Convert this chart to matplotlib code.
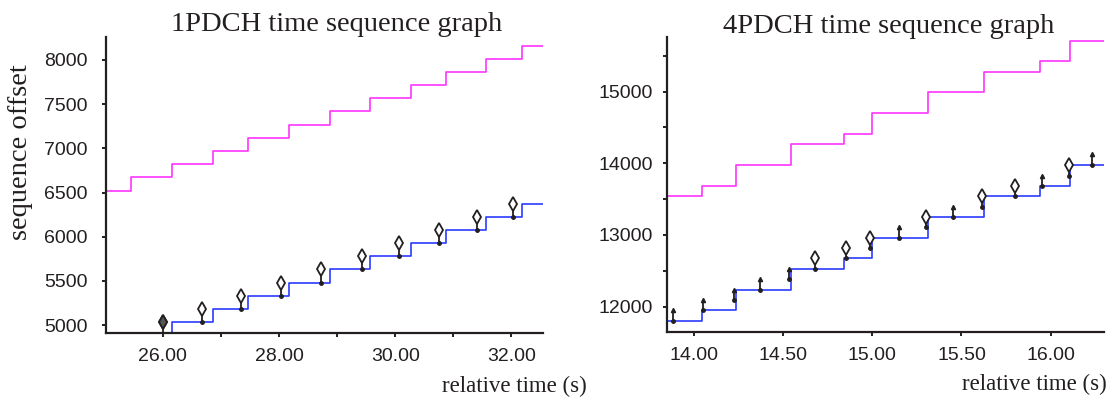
import matplotlib.pyplot as plt
from matplotlib.ticker import MultipleLocator, FormatStrFormatter

#%% Data
# 1PDCH: ack / window step times (s) and levels (bytes)
pd1_step_t = [25.0, 25.455, 26.16, 26.86, 27.46, 28.165, 28.87, 29.57,
              30.265, 30.87, 31.57, 32.175]
pd1_win = [6521, 6673, 6824, 6971, 7121, 7268, 7420, 7567, 7717, 7864,
           8011, 8162]
pd1_ack = [4735, 4884, 5033, 5183, 5333, 5481, 5633, 5780, 5930, 6077,
           6228, 6375]
# 1PDCH: data segments (time, seq start, seq end)
pd1_seg_t = [26.0, 26.67, 27.34, 28.03, 28.72, 29.42, 30.07, 30.75, 31.40,
             32.03]
pd1_seg_lo = [4884, 5033, 5183, 5333, 5481, 5633, 5780, 5930, 6077, 6228]
pd1_seg_hi = [5033, 5183, 5333, 5481, 5633, 5780, 5930, 6077, 6228, 6375]

# 4PDCH
pd4_step_t = [13.845, 14.042, 14.234, 14.542, 14.841, 15.0, 15.311, 15.629,
              15.940, 16.11]
pd4_win = [13538, 13684, 13977, 14266, 14410, 14699, 14992, 15279, 15424,
           15712]
pd4_ack = [11805, 11950, 12237, 12530, 12675, 12963, 13252, 13541, 13684,
           13981]
pd4_seg_t = [13.882, 14.051, 14.223, 14.371, 14.534, 14.680, 14.851, 14.989,
             15.150, 15.300, 15.452, 15.618, 15.800, 15.952, 16.102, 16.233]
pd4_seg_lo = [11805, 11950, 12095, 12237, 12382, 12530, 12675, 12820, 12963,
              13108, 13252, 13397, 13541, 13684, 13830, 13981]
pd4_seg_hi = [11950, 12095, 12237, 12382, 12530, 12675, 12820, 12963, 13108,
              13252, 13397, 13541, 13684, 13830, 13981, 14125]
# which 4PDCH segments carry a diamond head (others have a small arrow)
pd4_diamond = [False, False, False, False, False, True, True, True, False,
               True, False, True, True, False, True, False]

PINK = '#ff33ff'
BLUE = '#2b3bff'
INK = '#231f20'
SERIF = 'Liberation Serif'
SANS = 'Liberation Sans'


def draw_graph(ax, step_t, win, ack, seg_t, seg_lo, seg_hi, heads, xlim):
    t = step_t + [xlim[1]]
    ax.step(t, win + [win[-1]], where='post', color=PINK, lw=1.2)
    ax.step(t, ack + [ack[-1]], where='post', color=BLUE, lw=1.2)
    ax.vlines(seg_t, seg_lo, seg_hi, color=INK, lw=1.3, zorder=3)
    ax.plot(seg_t, seg_lo, 'o', color=INK, ms=2.5, zorder=4)
    dia_t = [x for x, h in zip(seg_t, heads) if h]
    dia_y = [y for y, h in zip(seg_hi, heads) if h]
    arr_t = [x for x, h in zip(seg_t, heads) if not h]
    arr_y = [y for y, h in zip(seg_hi, heads) if not h]
    ax.plot(dia_t, dia_y, 'd', ms=7, mfc='white', mec=INK, mew=1.3, zorder=5)
    ax.plot(arr_t, arr_y, '^', ms=3, color=INK, zorder=5)
    ax.set_xlim(xlim)
    for side in ['top', 'right']:
        ax.spines[side].set_visible(False)
    for side in ['left', 'bottom']:
        ax.spines[side].set_linewidth(1.6)
        ax.spines[side].set_color(INK)
    ax.tick_params(which='both', length=3, width=1.4, color=INK,
                   labelcolor=INK, labelsize=14)


fig = plt.figure(figsize=(11.12, 4), dpi=100)

#%% 1PDCH
ax1 = fig.add_axes([0.0953, 0.1675, 0.3933, 0.7393])
draw_graph(ax1, pd1_step_t, pd1_win, pd1_ack, pd1_seg_t, pd1_seg_lo,
           pd1_seg_hi, [True] * len(pd1_seg_t), (25.02, 32.55))
# the first segment's head looks filled (overlapping retransmission)
ax1.plot(pd1_seg_t[0], pd1_seg_hi[0], 'd', ms=7, mfc='#555555', mec=INK,
         mew=1.3, zorder=6)
ax1.set_ylim(4910, 8257)
ax1.yaxis.set_major_locator(MultipleLocator(500))
ax1.xaxis.set_major_locator(MultipleLocator(2))
ax1.xaxis.set_minor_locator(MultipleLocator(1))
ax1.xaxis.set_major_formatter(FormatStrFormatter('%.2f'))
ax1.tick_params(axis='x', pad=8)
ax1.tick_params(axis='y', pad=10)
for lab in ax1.get_xticklabels() + ax1.get_yticklabels():
    lab.set_family(SANS)

#%% 4PDCH
ax2 = fig.add_axes([0.5995, 0.1708, 0.3933, 0.7375])
draw_graph(ax2, pd4_step_t, pd4_win, pd4_ack, pd4_seg_t, pd4_seg_lo,
           pd4_seg_hi, pd4_diamond, (13.845, 16.30))
ax2.set_ylim(11651, 15767)
ax2.yaxis.set_major_locator(MultipleLocator(1000))
ax2.yaxis.set_minor_locator(MultipleLocator(500))
ax2.xaxis.set_major_locator(MultipleLocator(0.5))
ax2.xaxis.set_major_formatter(FormatStrFormatter('%.2f'))
ax2.tick_params(axis='x', pad=8)
ax2.tick_params(axis='y', pad=7)
for lab in ax2.get_xticklabels() + ax2.get_yticklabels():
    lab.set_family(SANS)

#%% Titles and axis labels
fig.text(337 / 1112, 1 - 31 / 400, '1PDCH time sequence graph',
         family=SERIF, fontsize=20.5, color=INK, ha='center', va='baseline')
fig.text(889 / 1112, 1 - 33 / 400, '4PDCH time sequence graph',
         family=SERIF, fontsize=20.5, color=INK, ha='center', va='baseline')
fig.text(21 / 1112, 1 - 152.5 / 400, 'sequence offset', family=SERIF,
         fontsize=20.5, color=INK, rotation=90, ha='center', va='center')
fig.text(587 / 1112, 1 - 392 / 400, 'relative time (s)', family=SERIF,
         fontsize=16.5, color=INK, ha='right', va='baseline')
fig.text(1107 / 1112, 1 - 390 / 400, 'relative time (s)', family=SERIF,
         fontsize=16.5, color=INK, ha='right', va='baseline')

plt.savefig('out.png', dpi=100)
